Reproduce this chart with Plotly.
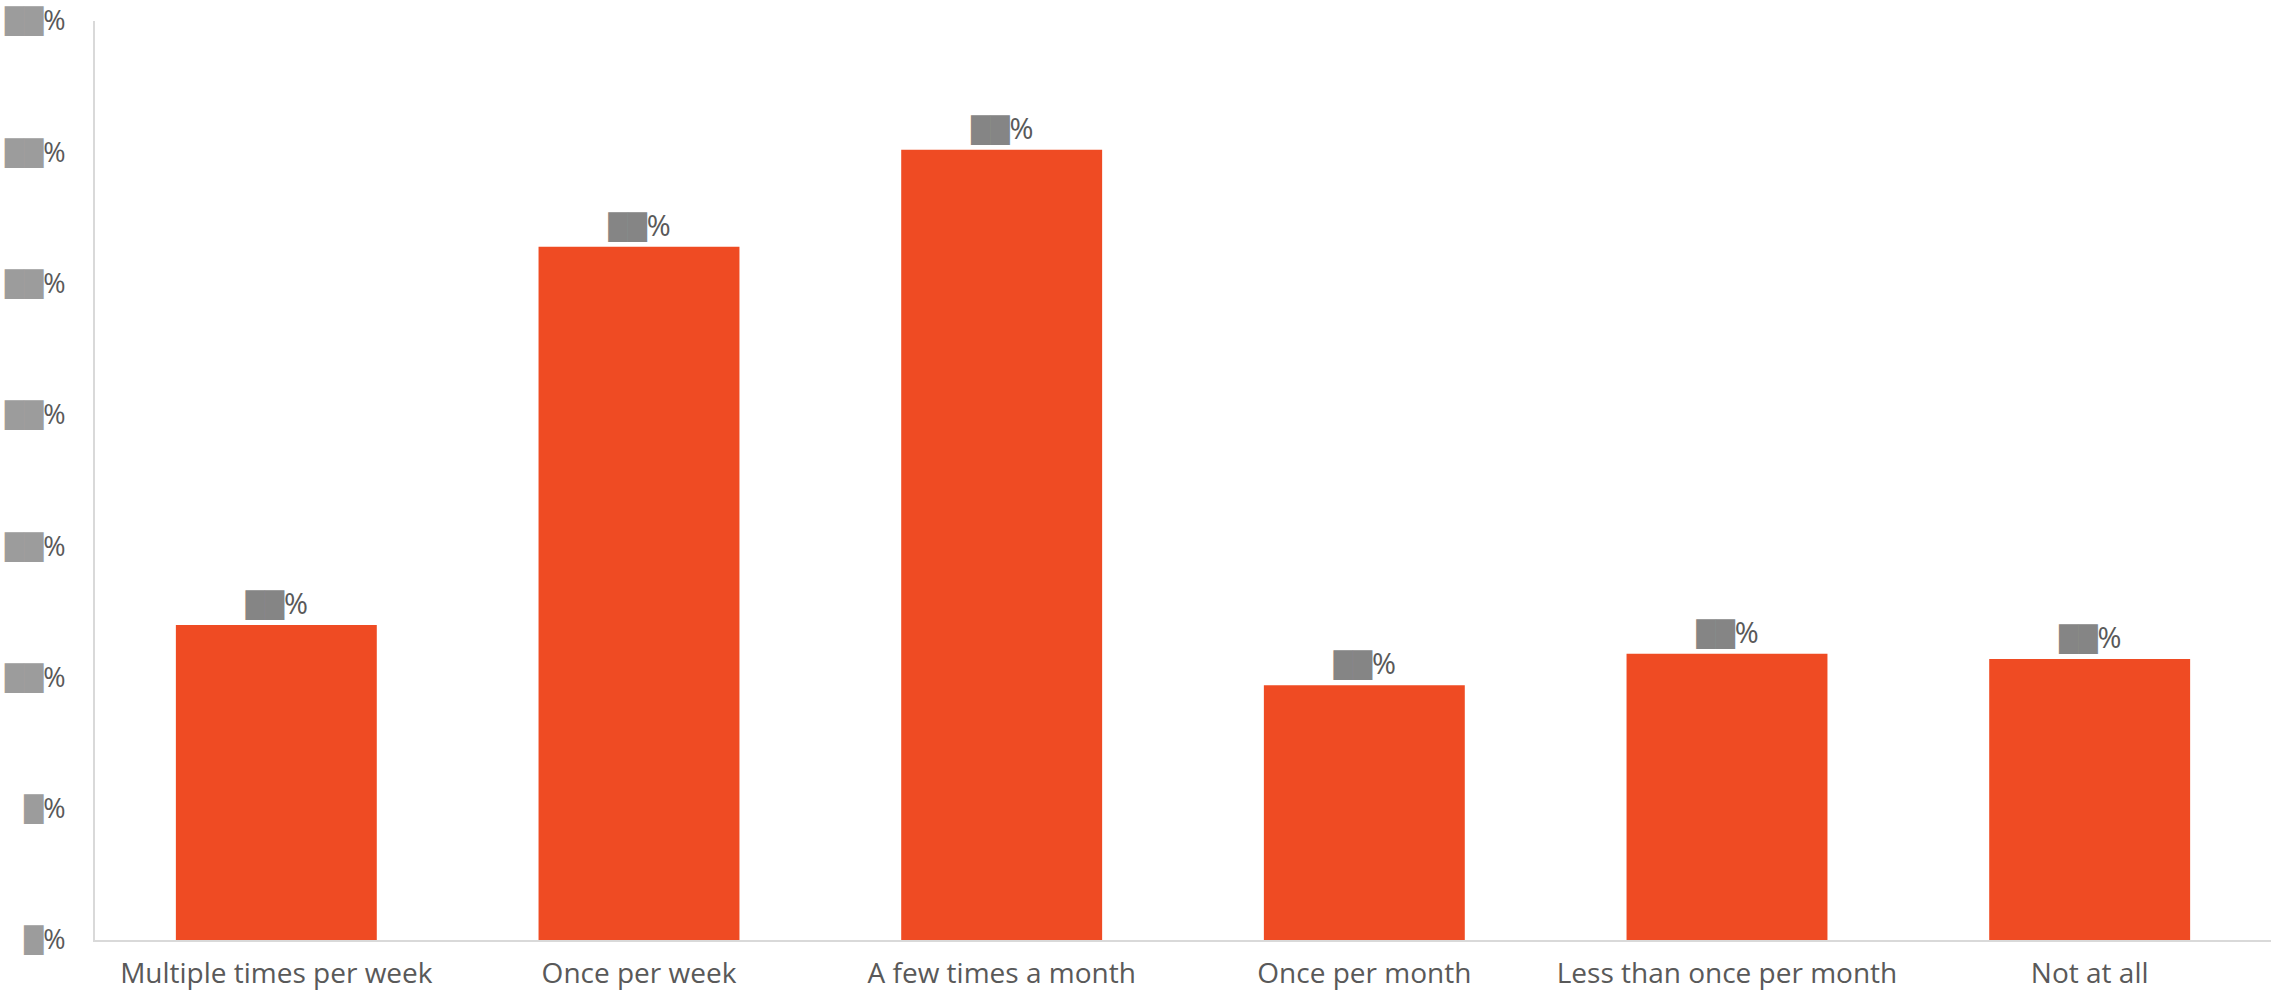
import plotly.graph_objects as go

categories = ["Multiple times per week", "Once per week", "A few times a month",
              "Once per month", "Less than once per month", "Not at all"]
values = [12.0, 26.4, 30.1, 9.7, 10.9, 10.7]
tick_values = [0, 5, 10, 15, 20, 25, 30, 35]

BAR_COLOR = "#EF4B23"
TEXT_COLOR = "#595959"
FONT = "Open Sans"


def redacted(v, box_color, box_size):
    n = len(str(int(round(v))))
    return ("<span style='color:%s;font-family:DejaVu Sans;font-size:%dpx'>%s</span>%%"
            % (box_color, box_size, "\u2588" * n))


bar_text = [redacted(v, "#858585", 25) for v in values]
tick_text = [redacted(v, "#9c9c9c", 25) for v in tick_values]

fig = go.Figure(go.Bar(
    x=categories, y=values,
    marker=dict(color=BAR_COLOR, line=dict(width=0)),
    text=bar_text, textposition="outside", cliponaxis=False,
    textfont=dict(size=29, color=TEXT_COLOR, family=FONT),
    hoverinfo="skip",
))

fig.update_layout(
    width=2275, height=991,
    margin=dict(l=95, r=4, t=21, b=51),
    paper_bgcolor="white", plot_bgcolor="white",
    bargap=0.446, showlegend=False,
    font=dict(family=FONT, color=TEXT_COLOR),
)
fig.update_xaxes(
    showline=True, linecolor="#d9d9d9", linewidth=2,
    showgrid=False, ticks="", automargin=False,
    ticklabelstandoff=7, ticklabeloverflow="allow",
    tickfont=dict(size=28, color=TEXT_COLOR, family=FONT),
)
fig.update_yaxes(
    range=[0, 35], tickvals=tick_values, ticktext=tick_text,
    showline=True, linecolor="#d9d9d9", linewidth=2,
    showgrid=False, zeroline=False, ticks="", automargin=False,
    ticklabelstandoff=22, ticklabeloverflow="allow",
    tickfont=dict(size=27, color=TEXT_COLOR, family=FONT),
)

fig.write_html("out.html", config={"displayModeBar": False},
               post_script="document.body.style.margin='0';")
